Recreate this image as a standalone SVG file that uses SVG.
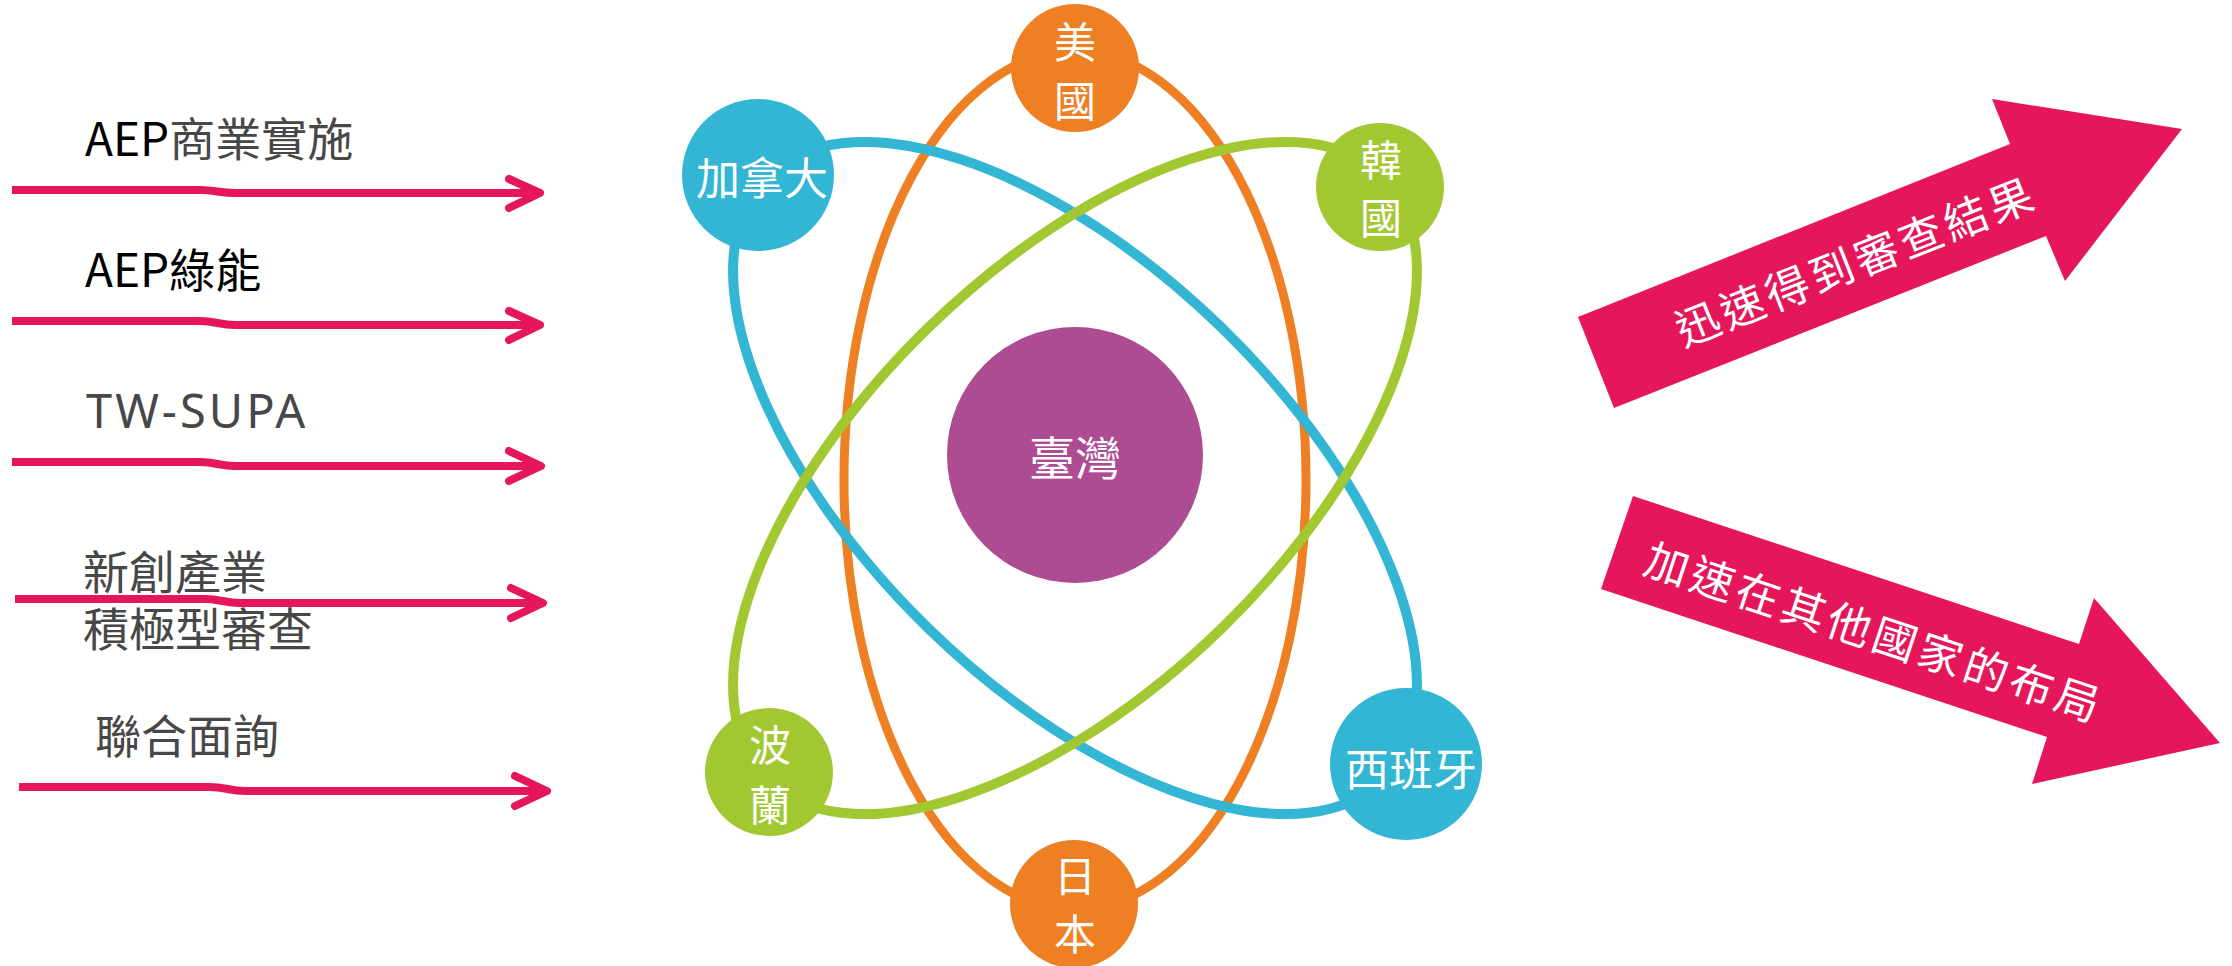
<svg xmlns="http://www.w3.org/2000/svg" width="2232" height="966" viewBox="0 0 2232 966">
<style>
.lbl{font-family:"Noto Sans CJK TC","Noto Sans",sans-serif;font-size:46px;fill:#474747}
.blk{fill:#000}
.ln{fill:none;stroke:#E5175A;stroke-width:8;stroke-linecap:butt;stroke-linejoin:round}
.hd{fill:none;stroke:#E5175A;stroke-width:8;stroke-linecap:round;stroke-linejoin:round}
.orb{fill:none}
.ct{font-family:"Noto Sans CJK TC",sans-serif;font-size:42px;fill:#fff;text-anchor:middle;dominant-baseline:central}
.at{font-family:"Noto Sans CJK TC",sans-serif;font-size:44px;fill:#fff;text-anchor:middle;dominant-baseline:central;letter-spacing:4px}
</style>
<rect width="2232" height="966" fill="#fff"/>

<g id="connectors">
  <path class="ln" d="M12 190 L200 190 C215 190 220 193 235 193 L537 193"/>
  <path class="hd" d="M509 179 L540 193 L509 208"/>
  <path class="ln" d="M12 321 L200 321 C215 321 220 325 235 325 L537 325"/>
  <path class="hd" d="M509 311 L540 325 L509 340"/>
  <path class="ln" d="M12 462 L200 462 C215 462 220 466 235 466 L538 466"/>
  <path class="hd" d="M509 451 L541 466 L509 481"/>
  <path class="ln" d="M15 599 L205 599 C220 599 225 603 240 603 L542 603"/>
  <path class="hd" d="M511 588 L543 603 L511 618"/>
  <path class="ln" d="M19 787 L210 787 C225 787 230 791 245 791 L546 791"/>
  <path class="hd" d="M515 776 L547 791 L515 806"/>
</g>

<g id="labels">
  <text class="lbl" x="85" y="156"><tspan class="blk">AEP</tspan>商業實施</text>
  <text class="lbl blk" x="85" y="287">AEP綠能</text>
  <text class="lbl" x="86" y="428" style="font-family:'Noto Sans',sans-serif;font-size:47px;letter-spacing:3px">TW-SUPA</text>
  <text class="lbl" x="83" y="589">新創產業</text>
  <text class="lbl" x="83" y="646">積極型審查</text>
  <text class="lbl" x="95" y="753">聯合面詢</text>
</g>

<g id="orbits">
  <ellipse class="orb" cx="1075" cy="480" rx="231" ry="429" stroke="#EE7F22" stroke-width="9"/>
  <ellipse class="orb" cx="1075" cy="478" rx="431" ry="210" transform="rotate(44.2 1075 478)" stroke="#33B5D4" stroke-width="10"/>
  <ellipse class="orb" cx="1075" cy="478" rx="431" ry="210" transform="rotate(-44.2 1075 478)" stroke="#A2C831" stroke-width="10"/>
</g>

<g id="taiwan">
  <circle cx="1075" cy="455" r="128" fill="#AD4B93"/>
  <text class="ct" x="1075" y="455" style="font-size:46px">臺灣</text>
</g>
<g id="usa">
  <circle cx="1075" cy="68" r="64" fill="#EE7F22"/>
  <text class="ct" x="1075" y="39">美</text>
  <text class="ct" x="1075" y="98">國</text>
</g>
<g id="canada">
  <circle cx="758" cy="175" r="76" fill="#33B5D4"/>
  <text class="ct" x="762" y="176" style="font-size:44px">加拿大</text>
</g>
<g id="korea">
  <circle cx="1380" cy="187" r="64" fill="#A2C831"/>
  <text class="ct" x="1381" y="157">韓</text>
  <text class="ct" x="1381" y="215">國</text>
</g>
<g id="poland">
  <circle cx="769" cy="772" r="64" fill="#A2C831"/>
  <text class="ct" x="770" y="742">波</text>
  <text class="ct" x="770" y="802">蘭</text>
</g>
<g id="japan">
  <circle cx="1074" cy="904" r="64" fill="#EE7F22"/>
  <text class="ct" x="1075" y="873">日</text>
  <text class="ct" x="1075" y="931">本</text>
</g>
<g id="spain">
  <circle cx="1406" cy="764" r="76" fill="#33B5D4"/>
  <text class="ct" x="1411" y="767" style="font-size:44px">西班牙</text>
</g>

<g id="arrow-up">
  <polygon points="1578,317 2010,144 1992,99 2182,129 2065,281 2046,236 1614,408" fill="#E5175A"/>
  <text class="at" x="1855" y="259" transform="rotate(-21.6 1855 259)">迅速得到審查結果</text>
</g>
<g id="arrow-down">
  <polygon points="1633,496 2079,644 2094,598 2220,743 2032,784 2047,737 1601,589" fill="#E5175A"/>
  <text class="at" x="1875" y="630" transform="rotate(18.3 1875 630)">加速在其他國家的布局</text>
</g>
</svg>
